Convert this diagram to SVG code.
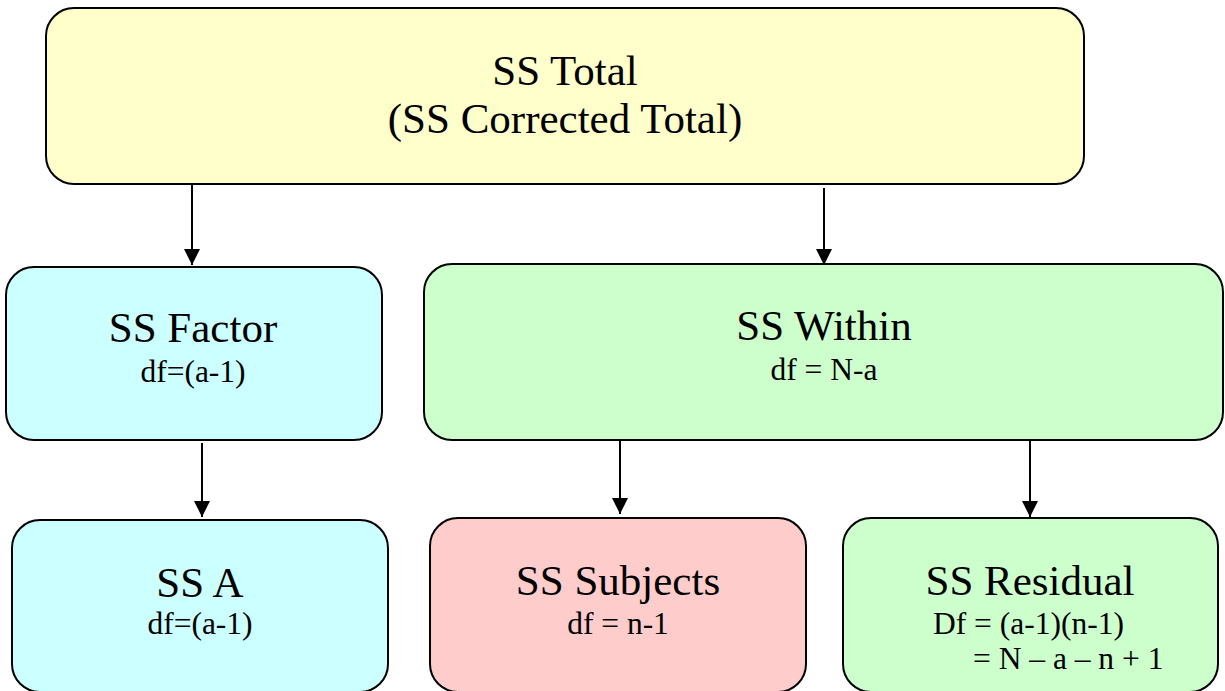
<svg xmlns="http://www.w3.org/2000/svg" width="1225" height="691" viewBox="0 0 1225 691">
<style>
.box{stroke:#000;stroke-width:2}
.t{font-family:"Liberation Serif","Times New Roman",serif;fill:#000;text-anchor:middle}
.big{font-size:43px}
.sm{font-size:31.5px}
.conn line{stroke:#000;stroke-width:2;fill:none}
</style>
<defs>
<marker id="ah" markerWidth="16" markerHeight="16" refX="16" refY="8" orient="auto" markerUnits="userSpaceOnUse">
<path d="M0,0 L16,8 L0,16 Z" fill="#000"/>
</marker>
</defs>
<rect width="1225" height="691" fill="#fff"/>
<g id="connectors" class="conn">
<line x1="192" y1="185" x2="192" y2="265" marker-end="url(#ah)"/>
<line x1="824" y1="188" x2="824" y2="265" marker-end="url(#ah)"/>
<line x1="202" y1="443" x2="202" y2="517" marker-end="url(#ah)"/>
<line x1="620" y1="441" x2="620" y2="514" marker-end="url(#ah)"/>
<line x1="1030" y1="441" x2="1030" y2="517" marker-end="url(#ah)"/>
</g>
<g id="ss-total">
<rect class="box" x="46" y="8" width="1038" height="176" rx="28" fill="#FFFFCC"/>
<text class="t big" x="565" y="85">SS Total</text>
<text class="t big" x="565" y="133">(SS Corrected Total)</text>
</g>
<g id="ss-factor">
<rect class="box" x="6" y="267" width="376" height="173" rx="28" fill="#CCFFFF"/>
<text class="t big" x="193" y="342">SS Factor</text>
<text class="t sm" x="193" y="382">df=(a-1)</text>
</g>
<g id="ss-within">
<rect class="box" x="424" y="264" width="799" height="176" rx="28" fill="#CCFFCC"/>
<text class="t big" x="824" y="340">SS Within</text>
<text class="t sm" x="824" y="380">df = N-a</text>
</g>
<g id="ss-a">
<rect class="box" x="12" y="520" width="376" height="172" rx="28" fill="#CCFFFF"/>
<text class="t big" x="200" y="597">SS A</text>
<text class="t sm" x="200" y="634">df=(a-1)</text>
</g>
<g id="ss-subjects">
<rect class="box" x="430" y="518" width="376" height="174" rx="28" fill="#FFCCCC"/>
<text class="t big" x="618" y="595">SS Subjects</text>
<text class="t sm" x="618" y="634">df = n-1</text>
</g>
<g id="ss-residual">
<rect class="box" x="843" y="518" width="375" height="174" rx="28" fill="#CCFFCC"/>
<text class="t big" x="1030" y="595">SS Residual</text>
<text class="t sm" x="933" y="634" style="text-anchor:start">Df = (a-1)(n-1)</text>
<text class="t sm" x="973" y="669" style="text-anchor:start">= N – a – n + 1</text>
</g>
</svg>
